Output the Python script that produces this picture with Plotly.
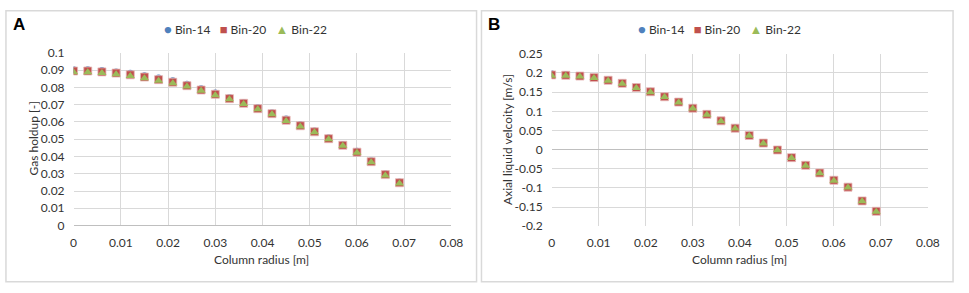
import plotly.graph_objects as go

radius = [0.000, 0.003, 0.006, 0.009, 0.012, 0.015, 0.018, 0.021, 0.024, 0.027, 0.030, 0.033,
          0.036, 0.039, 0.042, 0.045, 0.048, 0.051, 0.054, 0.057, 0.060, 0.063, 0.066, 0.069]

holdup_bin14 = [0.0902, 0.0903, 0.0898, 0.0890, 0.0882, 0.0868, 0.0855, 0.0838, 0.0818, 0.0793, 0.0768, 0.0742,
                0.0713, 0.0684, 0.0653, 0.0617, 0.0584, 0.0548, 0.0508, 0.0470, 0.0430, 0.0376, 0.0300, 0.0252]
holdup_bin20 = [0.0895, 0.0895, 0.0890, 0.0883, 0.0873, 0.0860, 0.0845, 0.0830, 0.0810, 0.0785, 0.0760, 0.0735,
                0.0708, 0.0677, 0.0648, 0.0610, 0.0578, 0.0543, 0.0503, 0.0465, 0.0425, 0.0370, 0.0295, 0.0248]
holdup_bin22 = [0.0888, 0.0888, 0.0883, 0.0876, 0.0866, 0.0853, 0.0838, 0.0824, 0.0805, 0.0780, 0.0755, 0.0731,
                0.0704, 0.0673, 0.0645, 0.0606, 0.0574, 0.0540, 0.0500, 0.0462, 0.0422, 0.0367, 0.0290, 0.0243]

vel_bin14 = [0.198, 0.196, 0.193, 0.189, 0.182, 0.174, 0.163, 0.152, 0.139, 0.125, 0.109, 0.093,
             0.076, 0.057, 0.038, 0.018, 0.000, -0.020, -0.040, -0.060, -0.079, -0.097, -0.133, -0.160]
vel_bin20 = [0.195, 0.194, 0.192, 0.188, 0.181, 0.173, 0.162, 0.151, 0.138, 0.124, 0.108, 0.092,
             0.075, 0.056, 0.037, 0.017, -0.001, -0.021, -0.041, -0.061, -0.080, -0.098, -0.134, -0.161]
vel_bin22 = [0.193, 0.193, 0.191, 0.187, 0.180, 0.172, 0.161, 0.150, 0.137, 0.123, 0.107, 0.091,
             0.074, 0.055, 0.036, 0.016, -0.002, -0.022, -0.042, -0.062, -0.081, -0.099, -0.135, -0.162]

series_names = ["Bin-14", "Bin-20", "Bin-22"]
x_ticks = [0, 0.01, 0.02, 0.03, 0.04, 0.05, 0.06, 0.07, 0.08]
x_ticktext = ["0", "0.01", "0.02", "0.03", "0.04", "0.05", "0.06", "0.07", "0.08"]
ya_ticks = [0, 0.01, 0.02, 0.03, 0.04, 0.05, 0.06, 0.07, 0.08, 0.09, 0.1]
ya_ticktext = ["0", "0.01", "0.02", "0.03", "0.04", "0.05", "0.06", "0.07", "0.08", "0.09", "0.1"]
yb_ticks = [-0.2, -0.15, -0.1, -0.05, 0, 0.05, 0.1, 0.15, 0.2, 0.25]
yb_ticktext = ["-0.2", "-0.15", "-0.1", "-0.05", "0", "0.05", "0.1", "0.15", "0.2", "0.25"]

W, H = 969, 293
BLUE, RED, GREEN = "#4F81BD", "#C0504D", "#9BBB59"
TXT = "#333333"
GRID = "#D9D9D9"
FONT = "Lato, Open Sans, sans-serif"

styles = [
    dict(symbol="circle", size=7, color=BLUE, line=dict(width=0)),
    dict(symbol="square", size=8, color=RED, line=dict(width=0.8, color="#E6B9B8")),
    dict(symbol="triangle-up", size=8, color=GREEN, line=dict(width=0)),
]

fig = go.Figure()
for name, ys, st in zip(series_names, [holdup_bin14, holdup_bin20, holdup_bin22], styles):
    fig.add_trace(go.Scatter(x=radius, y=ys, mode="markers", name=name, marker=st,
                             xaxis="x", yaxis="y", showlegend=False))
for name, ys, st in zip(series_names, [vel_bin14, vel_bin20, vel_bin22], styles):
    fig.add_trace(go.Scatter(x=radius, y=ys, mode="markers", name=name, marker=st,
                             xaxis="x2", yaxis="y2", showlegend=False))

def px(v):
    return v / W

def py(v):
    return 1 - v / H

axis_common = dict(showgrid=True, gridcolor=GRID, gridwidth=1, showline=False,
                   tickfont=dict(family=FONT, size=12, color=TXT), ticks="",
                   ticklabelstandoff=8)

fig.update_layout(
    width=W, height=H,
    margin=dict(l=0, r=0, t=0, b=0),
    paper_bgcolor="white", plot_bgcolor="white",
    showlegend=False,
    xaxis=dict(domain=[px(71.7), px(455.5)], range=[0, 0.08], tickvals=x_ticks, ticktext=x_ticktext,
               zeroline=False, anchor="y", **axis_common),
    yaxis=dict(domain=[py(229.3), py(47.3)], range=[0, 0.1], tickvals=ya_ticks, ticktext=ya_ticktext,
               zeroline=True, zerolinecolor="#BFBFBF", zerolinewidth=1, anchor="x", **axis_common),
    xaxis2=dict(domain=[px(557.3), px(939.5)], range=[0, 0.08], tickvals=x_ticks, ticktext=x_ticktext,
                zeroline=False, anchor="y2", **axis_common),
    yaxis2=dict(domain=[py(230), py(48.3)], range=[-0.2, 0.25], tickvals=yb_ticks, ticktext=yb_ticktext,
                zeroline=True, zerolinecolor="#BFBFBF", zerolinewidth=1, anchor="x2", **axis_common),
)

# panel frames
for x0, x1 in [(3, 481), (486, 965)]:
    fig.add_shape(type="rect", xref="paper", yref="paper", x0=px(x0), x1=px(x1), y0=py(288.5), y1=py(3),
                  line=dict(color=GRID, width=1.5), fillcolor="rgba(0,0,0,0)", layer="below")

def ann(text, x, y, size=12, bold=False, angle=0, xanchor="center", color=TXT, family=FONT):
    fig.add_annotation(text=f"<b>{text}</b>" if bold else text, xref="paper", yref="paper",
                       x=px(x), y=py(y), showarrow=False, textangle=angle, xanchor=xanchor, yanchor="middle",
                       font=dict(family=family, size=size, color=color))

ann("A", 8, 17, size=17, bold=True, xanchor="left", color="#000000", family="Liberation Sans, Arial")
ann("B", 491, 17, size=17, bold=True, xanchor="left", color="#000000", family="Liberation Sans, Arial")

def legend_text():
    syms = ["●", "■", "▲"]
    cols = [BLUE, RED, GREEN]
    parts = [f'<span style="color:{c};font-size:13px">{s}</span> {n}' for s, c, n in zip(syms, cols, series_names)]
    return "   ".join(parts)

ann(legend_text(), 246, 22, size=12)
ann(legend_text(), 728, 22, size=12)

ann("Gas holdup [-]", 31, 138, size=12, angle=-90)
ann("Column radius [m]", 263, 265, size=12)
ann("Axial liquid velcoity [m/s]", 513, 139, size=12, angle=-90)
ann("Column radius [m]", 748, 265, size=12)

fig.write_html("out.html", config={"displayModeBar": False, "staticPlot": True},
               post_script="document.body.style.margin='0';document.body.style.overflow='hidden';")
